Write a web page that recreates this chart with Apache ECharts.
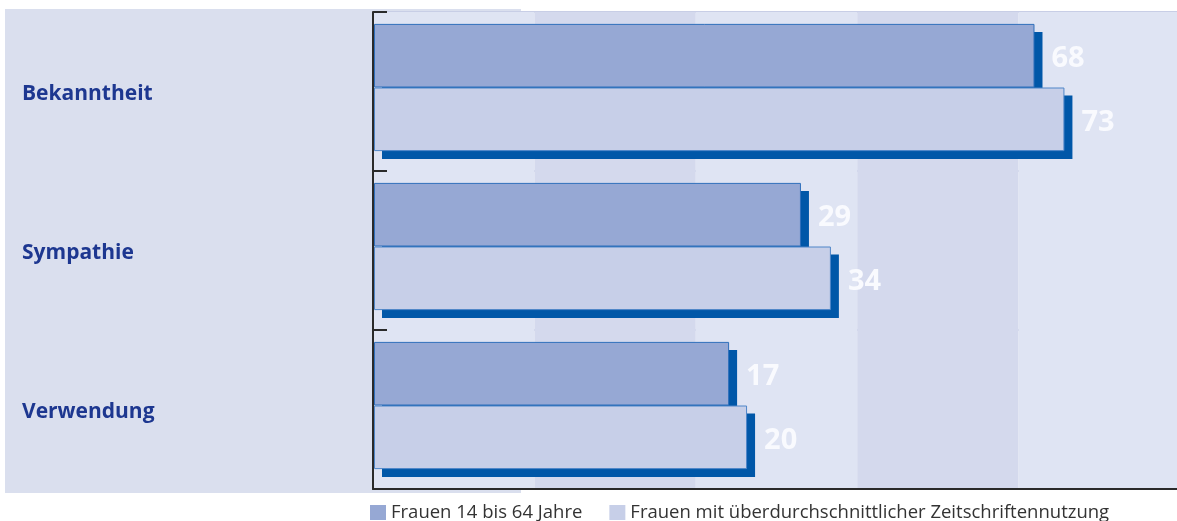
<!DOCTYPE html>
<html>
<head>
<meta charset="utf-8">
<script src="https://cdn.jsdelivr.net/npm/echarts@6/dist/echarts.min.js"></script>
<style>
  html, body { margin: 0; padding: 0; background: #ffffff; }
  #chart { width: 1177px; height: 521px; }
</style>
</head>
<body>
<div id="chart"></div>
<script>
// Categories and values (percent)
const categories = ['Bekanntheit', 'Sympathie', 'Verwendung'];
const seriesNames = ['Frauen 14 bis 64 Jahre', 'Frauen mit überdurchschnittlicher Zeitschriftennutzung'];
const allWomen = [68, 29, 17];
const heavyReaders = [73, 34, 20];

const chart = echarts.init(document.getElementById('chart'), null, { renderer: 'canvas' });

const FONT = '"Open Sans", "Noto Sans", sans-serif';
const SCALE_MIN = -42.3;
const SCALE_MAX = 92.3;

const valueLabel = {
  show: true,
  position: 'right',
  distance: 17,
  offset: [0, 3],
  color: '#f9fafe',
  fontFamily: FONT,
  fontWeight: 'bold',
  fontSize: 29
};

// hidden value / category axes shared by the bar grids
function barValueAxis(gridIndex) {
  return {
    gridIndex: gridIndex,
    type: 'value',
    min: SCALE_MIN, max: SCALE_MAX,
    startValue: SCALE_MIN,
    show: false,
    splitLine: { show: false }
  };
}
function barCategoryAxis(gridIndex) {
  return { gridIndex: gridIndex, type: 'category', data: categories, inverse: true, show: false };
}
const barLayout = { barGap: '0%', barCategoryGap: '20%' };
const gridBase = { show: false, outerBoundsMode: 'none', containLabel: false };

chart.setOption({
  backgroundColor: '#ffffff',
  animation: false,
  graphic: [{
    type: 'rect',
    z: -10,
    shape: { x: 5, y: 9, width: 516, height: 484 },
    style: { fill: '#dadfee' }
  }],
  grid: [
    // frame: stripes, split lines, ticks, category labels
    Object.assign({ left: 373, width: 807, top: 12, height: 477 }, gridBase),
    // main bars
    Object.assign({ left: 374, width: 806, top: 8, height: 477 }, gridBase),
    // drop shadows, shifted right and down
    Object.assign({ left: 382, width: 806, top: 16, height: 477 }, gridBase)
  ],
  legend: {
    data: seriesNames,
    left: 370,
    top: 503,
    padding: 0,
    itemWidth: 16,
    itemHeight: 15,
    itemGap: 27,
    icon: 'rect',
    itemStyle: { borderWidth: 0 },
    textStyle: { fontFamily: FONT, fontSize: 18.5, color: '#333333', lineHeight: 15 }
  },
  xAxis: [
    {
      gridIndex: 0,
      type: 'value',
      min: 0, max: 5, interval: 1,
      axisLine: { show: true, onZero: false, lineStyle: { color: '#2a2a2a', width: 2 } },
      axisTick: { show: false },
      axisLabel: { show: false },
      splitLine: { show: false },
      splitArea: { show: true, areaStyle: { color: ['#dfe4f3', '#d4d9ed'] } }
    },
    barValueAxis(1),
    barValueAxis(2)
  ],
  yAxis: [
    {
      gridIndex: 0,
      type: 'category',
      data: categories,
      inverse: true,
      axisLine: { show: true, onZero: false, lineStyle: { color: '#2a2a2a', width: 2 } },
      axisTick: { show: true, inside: true, length: 14, lineStyle: { color: '#2a2a2a', width: 2 } },
      axisLabel: {
        align: 'left',
        margin: 351,
        formatter: function (v) { return '{cat|' + v + '}'; },
        rich: {
          cat: {
            color: '#1d3790',
            fontFamily: FONT,
            fontWeight: 'bold',
            fontSize: 21,
            padding: [6, 0, 0, 0]
          }
        }
      },
      splitLine: { show: true, lineStyle: { color: '#c8cee6', width: 2 } }
    },
    barCategoryAxis(1),
    barCategoryAxis(2)
  ],
  series: [
    // shadows first so the bars sit on top of them
    Object.assign({
      type: 'bar', xAxisIndex: 2, yAxisIndex: 2,
      data: allWomen, silent: true,
      itemStyle: { color: '#0057a8' }
    }, barLayout),
    Object.assign({
      type: 'bar', xAxisIndex: 2, yAxisIndex: 2,
      data: heavyReaders, silent: true,
      itemStyle: { color: '#0057a8' }
    }, barLayout),
    Object.assign({
      name: seriesNames[0],
      type: 'bar',
      xAxisIndex: 1, yAxisIndex: 1,
      data: allWomen,
      itemStyle: { color: '#96a8d4', borderColor: '#2f6fbb', borderWidth: 1 },
      label: valueLabel
    }, barLayout),
    Object.assign({
      name: seriesNames[1],
      type: 'bar',
      xAxisIndex: 1, yAxisIndex: 1,
      data: heavyReaders,
      itemStyle: { color: '#c7cfe8', borderColor: '#4f86c8', borderWidth: 1 },
      label: valueLabel
    }, barLayout)
  ]
});
</script>
</body>
</html>
